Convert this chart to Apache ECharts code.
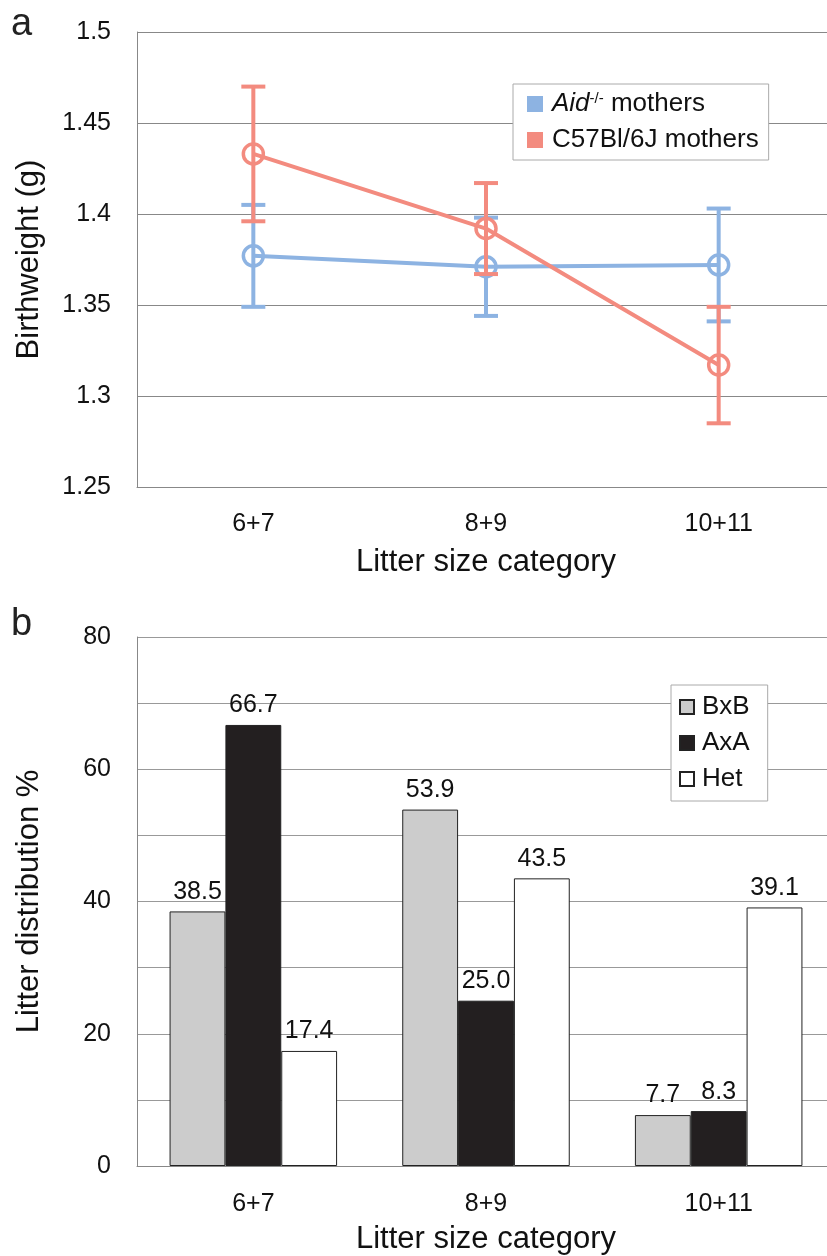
<!DOCTYPE html>
<html>
<head>
<meta charset="utf-8">
<script src="https://cdn.jsdelivr.net/npm/echarts@6/dist/echarts.min.js"></script>
<style>
  html, body { margin: 0; padding: 0; background: #fff; overflow: hidden; }
  #main { width: 836px; height: 1256px; }
</style>
</head>
<body>
<div id="main"></div>
<script>
// categories shared by both panels
const categories = ['6+7', '8+9', '10+11'];

// panel a: birthweight (g), mean and error
const aidMean = [1.377, 1.371, 1.372];
const aidErr = [0.028, 0.027, 0.031];
const c57Mean = [1.433, 1.392, 1.317];
const c57Err = [0.037, 0.025, 0.032];

// panel b: litter distribution %
const bxb = [38.5, 53.9, 7.7];
const axa = [66.7, 25.0, 8.3];
const het = [17.4, 43.5, 39.1];

const BLUE = '#8db3e2';
const RED = '#f38b7f';
const FONT = 'Liberation Sans, Arial, sans-serif';

const chart = echarts.init(document.getElementById('main'));

// vertical error bar with caps
const errBar = (color) => (params, api) => {
  const i = api.value(0);
  const lo = api.coord([i, api.value(1)]);
  const hi = api.coord([i, api.value(2)]);
  const half = 12;
  const style = { stroke: color, lineWidth: 4 };
  return {
    type: 'group',
    children: [
      { type: 'line', shape: { x1: lo[0], y1: lo[1], x2: hi[0], y2: hi[1] }, style },
      { type: 'line', shape: { x1: lo[0] - half, y1: lo[1], x2: lo[0] + half, y2: lo[1] }, style },
      { type: 'line', shape: { x1: hi[0] - half, y1: hi[1], x2: hi[0] + half, y2: hi[1] }, style },
    ],
  };
};

const barStyle = (color) => ({ color: color, borderColor: '#222', borderWidth: 1 });
const barLabel = {
  show: true,
  position: 'top',
  distance: 7,
  fontSize: 25,
  color: '#111',
  fontFamily: FONT,
  formatter: (p) => p.value.toFixed(1),
};

chart.setOption({
  animation: false,
  textStyle: { fontFamily: FONT },
  graphic: [
    { type: 'text', left: 11, top: 6, style: { text: 'a', fontSize: 38, fill: '#222', fontFamily: FONT } },
    { type: 'text', left: 11, top: 606, style: { text: 'b', fontSize: 38, fill: '#222', fontFamily: FONT } },
  ],
  legend: [
    {
      orient: 'vertical',
      left: 513,
      top: 84,
      padding: [7, 10, 7, 14],
      itemWidth: 16,
      itemHeight: 16,
      itemGap: 10,
      borderColor: '#aaa',
      borderWidth: 1,
      backgroundColor: '#fff',
      icon: 'rect',
      data: [
        { name: 'Aid', itemStyle: { color: BLUE, borderWidth: 0 } },
        { name: 'C57Bl/6J mothers', itemStyle: { color: RED, borderWidth: 0 } },
      ],
      formatter: (name) => (name === 'Aid' ? '{i|Aid}{s|-/-}{n| mothers}' : '{n|' + name + '}'),
      textStyle: {
        fontSize: 26,
        color: '#111',
        padding: [0, 0, 0, 4],
        rich: {
          i: { fontSize: 26, fontStyle: 'italic', fontFamily: FONT, color: '#111' },
          s: { fontSize: 15, verticalAlign: 'top', fontFamily: FONT, color: '#111', padding: [0, 0, 10, 0] },
          n: { fontSize: 26, fontFamily: FONT, color: '#111' },
        },
      },
    },
    {
      orient: 'vertical',
      left: 671,
      top: 685,
      padding: [9, 18, 9, 8],
      itemWidth: 14,
      itemHeight: 14,
      itemGap: 10,
      borderColor: '#aaa',
      borderWidth: 1,
      backgroundColor: '#fff',
      icon: 'rect',
      data: ['BxB', 'AxA', 'Het'],
      textStyle: { fontSize: 26, color: '#111', padding: [0, 0, 0, 3] },
    },
  ],
  grid: [
    { left: 137, top: 32, width: 698, height: 455 },
    { left: 137, top: 637, width: 698, height: 530 },
  ],
  xAxis: [
    {
      gridIndex: 0,
      type: 'category',
      data: categories,
      axisTick: { show: false },
      axisLine: { lineStyle: { color: '#888', width: 1 } },
      axisLabel: { fontSize: 25, color: '#111', margin: 25 },
      name: 'Litter size category',
      nameLocation: 'middle',
      nameGap: 60,
      nameTextStyle: { fontSize: 31, color: '#111' },
    },
    {
      gridIndex: 1,
      type: 'category',
      data: categories,
      axisTick: { show: false },
      axisLine: { lineStyle: { color: '#888', width: 1 } },
      axisLabel: { fontSize: 25, color: '#111', margin: 26 },
      name: 'Litter size category',
      nameLocation: 'middle',
      nameGap: 58,
      nameTextStyle: { fontSize: 31, color: '#111' },
    },
  ],
  yAxis: [
    {
      gridIndex: 0,
      type: 'value',
      min: 1.25,
      max: 1.5,
      interval: 0.05,
      axisLine: { show: true, lineStyle: { color: '#888', width: 1 } },
      axisTick: { show: false },
      splitLine: { lineStyle: { color: '#888', width: 1 } },
      axisLabel: { fontSize: 25, color: '#111', margin: 26, formatter: (v) => String(parseFloat(v.toFixed(2))) },
      name: 'Birthweight (g)',
      nameLocation: 'middle',
      nameGap: 92,
      nameTextStyle: { fontSize: 31, color: '#111' },
    },
    {
      gridIndex: 1,
      type: 'value',
      min: 0,
      max: 80,
      interval: 10,
      axisLine: { show: true, lineStyle: { color: '#888', width: 1 } },
      axisTick: { show: false },
      splitLine: { lineStyle: { color: '#999', width: 1 } },
      axisLabel: { fontSize: 25, color: '#111', margin: 26, formatter: (v) => (v % 20 === 0 ? String(v) : '') },
      name: 'Litter distribution %',
      nameLocation: 'middle',
      nameGap: 92,
      nameTextStyle: { fontSize: 31, color: '#111' },
    },
  ],
  series: [
    {
      name: 'Aid',
      type: 'line',
      xAxisIndex: 0,
      yAxisIndex: 0,
      data: aidMean,
      symbol: 'circle',
      symbolSize: 20,
      lineStyle: { color: BLUE, width: 4 },
      itemStyle: { color: 'rgba(0,0,0,0)', borderColor: BLUE, borderWidth: 3.5 },
      z: 3,
    },
    {
      name: 'Aid',
      type: 'custom',
      xAxisIndex: 0,
      yAxisIndex: 0,
      data: aidMean.map((m, i) => [i, m - aidErr[i], m + aidErr[i]]),
      encode: { x: 0, y: [1, 2] },
      renderItem: errBar(BLUE),
      z: 3,
    },
    {
      name: 'C57Bl/6J mothers',
      type: 'line',
      xAxisIndex: 0,
      yAxisIndex: 0,
      data: c57Mean,
      symbol: 'circle',
      symbolSize: 20,
      lineStyle: { color: RED, width: 4 },
      itemStyle: { color: 'rgba(0,0,0,0)', borderColor: RED, borderWidth: 3.5 },
      z: 4,
    },
    {
      name: 'C57Bl/6J mothers',
      type: 'custom',
      xAxisIndex: 0,
      yAxisIndex: 0,
      data: c57Mean.map((m, i) => [i, m - c57Err[i], m + c57Err[i]]),
      encode: { x: 0, y: [1, 2] },
      renderItem: errBar(RED),
      z: 4,
    },
    {
      name: 'BxB',
      type: 'bar',
      xAxisIndex: 1,
      yAxisIndex: 1,
      data: bxb,
      barGap: '0%',
      barCategoryGap: '28%',
      itemStyle: barStyle('#cccccc'),
      label: barLabel,
    },
    {
      name: 'AxA',
      type: 'bar',
      xAxisIndex: 1,
      yAxisIndex: 1,
      data: axa,
      barGap: '0%',
      barCategoryGap: '28%',
      itemStyle: barStyle('#231f20'),
      label: barLabel,
    },
    {
      name: 'Het',
      type: 'bar',
      xAxisIndex: 1,
      yAxisIndex: 1,
      data: het,
      barGap: '0%',
      barCategoryGap: '28%',
      itemStyle: barStyle('#ffffff'),
      label: barLabel,
    },
  ],
});
</script>
</body>
</html>
